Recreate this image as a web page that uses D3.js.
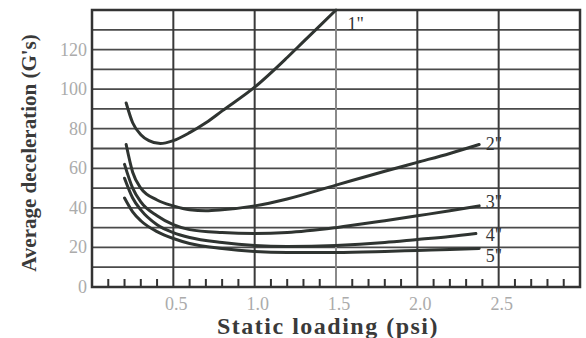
<!DOCTYPE html>
<html>
<head>
<meta charset="utf-8">
<script src="https://cdn.jsdelivr.net/npm/d3@7"></script>
<style>
  body { margin: 0; background: #fff; }
  svg { display: block; }
  .tick-label { font-family: "Liberation Serif", serif; font-size: 18px; fill: #ababab; }
  .title { font-family: "Liberation Serif", serif; font-weight: bold; fill: #3a3a3a; }
  .curve-label { font-family: "Liberation Serif", serif; font-size: 18px; fill: #333; }
</style>
</head>
<body>
<div class="chart"></div>
<script>
// series: static loading (psi) vs average deceleration (G's)
const curveNames = ['1"', '2"', '3"', '4"', '5"'];
const load1 = [0.21, 0.25, 0.3, 0.35, 0.42, 0.5, 0.6, 0.7, 0.8, 1.0, 1.2, 1.3, 1.4, 1.5];
const decel1 = [93, 83, 77, 74, 72.5, 74, 78, 83, 89, 101, 116, 124, 132, 140];
const load2 = [0.21, 0.25, 0.3, 0.4, 0.5, 0.6, 0.7, 0.8, 1.0, 1.2, 1.5, 1.8, 2.0, 2.2, 2.38];
const decel2 = [72, 58, 50, 44, 41, 39, 38.5, 39, 41, 44.5, 51.5, 58.5, 63, 67.5, 72];
const load3 = [0.2, 0.25, 0.3, 0.4, 0.5, 0.6, 0.8, 1.0, 1.2, 1.5, 1.8, 2.0, 2.2, 2.38];
const decel3 = [62, 50, 43, 36, 31.5, 29, 27.5, 27, 27.5, 30, 33.5, 36, 38.5, 41];
const load4 = [0.2, 0.25, 0.3, 0.4, 0.5, 0.6, 0.8, 1.0, 1.2, 1.5, 1.8, 2.0, 2.2, 2.36];
const decel4 = [55, 45, 39, 31.5, 27.5, 25, 22.5, 21, 20.5, 21, 22.5, 24, 25.5, 27];
const load5 = [0.2, 0.25, 0.3, 0.4, 0.5, 0.6, 0.8, 1.0, 1.2, 1.5, 1.8, 2.0, 2.2, 2.38];
const decel5 = [45, 38, 33.5, 28, 24.5, 22, 19.5, 18, 17.5, 17.5, 18, 18.5, 19, 19.5];
const xTicks = [0.5, 1.0, 1.5, 2.0, 2.5];
const yTicks = [0, 20, 40, 60, 80, 100, 120];

const width = 586, height = 338;
const margin = {left: 92, right: 6, top: 10, bottom: 51};

const x = d3.scaleLinear().domain([0, 3]).range([margin.left, width - margin.right]);
const y = d3.scaleLinear().domain([0, 140]).range([height - margin.bottom, margin.top]);

const svg = d3.select(".chart").append("svg")
    .attr("width", width)
    .attr("height", height);

// horizontal grid every 10 G
svg.append("g")
  .selectAll("line")
  .data(d3.range(10, 140, 10))
  .enter().append("line")
    .attr("x1", x(0)).attr("x2", x(3))
    .attr("y1", d => y(d)).attr("y2", d => y(d))
    .attr("stroke", "#4a4a4a")
    .attr("stroke-width", 1.8);

// vertical grid
svg.append("g")
  .selectAll("line")
  .data(xTicks)
  .enter().append("line")
    .attr("x1", d => x(d)).attr("x2", d => x(d))
    .attr("y1", y(0)).attr("y2", y(140))
    .attr("stroke", d => d === 1.5 ? "#8a8a8a" : "#3a3a3a")
    .attr("stroke-width", 2);

// minor ticks along the bottom
svg.append("g")
  .selectAll("line")
  .data(d3.range(1, 30).filter(i => i % 5 !== 0).map(i => i / 10))
  .enter().append("line")
    .attr("x1", d => x(d)).attr("x2", d => x(d))
    .attr("y1", y(0)).attr("y2", y(0) - 8)
    .attr("stroke", "#333")
    .attr("stroke-width", 2);

// frame
svg.append("rect")
    .attr("x", x(0)).attr("y", y(140))
    .attr("width", x(3) - x(0)).attr("height", y(0) - y(140))
    .attr("fill", "none")
    .attr("stroke", "#333")
    .attr("stroke-width", 2.5);

// tick labels
svg.append("g")
  .selectAll("text")
  .data(yTicks)
  .enter().append("text")
    .attr("class", "tick-label")
    .attr("x", 87)
    .attr("y", d => y(d) + 6)
    .attr("text-anchor", "end")
    .text(d => d);

svg.append("g")
  .selectAll("text")
  .data(xTicks)
  .enter().append("text")
    .attr("class", "tick-label")
    .attr("x", d => x(d) + 3)
    .attr("y", 310)
    .attr("text-anchor", "middle")
    .text(d => d.toFixed(1));

// axis titles
svg.append("text")
    .attr("class", "title")
    .attr("transform", "translate(36,153) rotate(-90)")
    .attr("text-anchor", "middle")
    .style("font-size", "21px")
    .text("Average deceleration (G's)");

svg.append("text")
    .attr("class", "title")
    .attr("x", 328)
    .attr("y", 334)
    .attr("text-anchor", "middle")
    .style("font-size", "24px")
    .style("letter-spacing", "1.5px")
    .text("Static loading (psi)");

// curves
const series = [[load1, decel1], [load2, decel2], [load3, decel3], [load4, decel4], [load5, decel5]];
const line = d3.line()
    .x(d => x(d[0]))
    .y(d => y(d[1]))
    .curve(d3.curveMonotoneX);

svg.append("g")
  .selectAll("path")
  .data(series)
  .enter().append("path")
    .attr("d", s => line(d3.zip(s[0], s[1])))
    .attr("fill", "none")
    .attr("stroke", "#2f3431")
    .attr("stroke-width", 3)
    .attr("stroke-linecap", "round");

// curve labels near the curve ends
const labelPos = [[1.57, 130], [2.42, 69], [2.42, 40], [2.42, 23.5], [2.42, 12.5]];
svg.append("g")
  .selectAll("text")
  .data(curveNames)
  .enter().append("text")
    .attr("class", "curve-label")
    .attr("x", (d, i) => x(labelPos[i][0]))
    .attr("y", (d, i) => y(labelPos[i][1]))
    .text(d => d);
</script>
</body>
</html>
